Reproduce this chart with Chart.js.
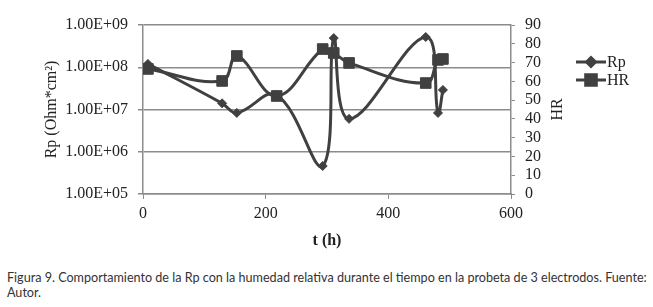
<!DOCTYPE html>
<html lang="es">
<head>
  <meta charset="UTF-8">
  <title>Figura 9 - Rp y HR</title>
  <script src="https://cdn.jsdelivr.net/npm/chart.js"></script>
  <style>
    body {
      margin: 0;
      background: #fff;
      width: 653px;
      height: 307px;
      position: relative;
      overflow: hidden;
    }
    #chart-box {
      position: absolute;
      left: 0;
      top: 0;
      width: 653px;
      height: 250px;
    }
    #caption {
      position: absolute;
      left: 7px;
      top: 270px;
      width: 640px;
      font-family: Lato, "Noto Sans", sans-serif;
      font-size: 12.6px;
      line-height: 15px;
      color: #333;
    }
  </style>
</head>
<body>
  <div id="chart-box"><canvas id="chart"></canvas></div>
  <div id="caption">Figura 9. Comportamiento de la Rp con la humedad relativa durante el tiempo en la probeta de 3 electrodos. Fuente: Autor.</div>

  <script>
    // datos
    const tiempo = [8, 129, 153, 218, 293, 311, 336, 461, 481, 489];
    const rp = [1.2e8, 1.4e7, 8.3e6, 2.2e7, 4.6e5, 4.9e8, 6.0e6, 5.2e8, 8.3e6, 2.9e7];
    const hr = [66.6, 60.2, 73.5, 52.2, 77.2, 75.1, 69.8, 59.1, 71.4, 71.9];

    const rpTicks = [1e5, 1e6, 1e7, 1e8, 1e9];
    const rpTickLabels = ['1.00E+05', '1.00E+06', '1.00E+07', '1.00E+08', '1.00E+09'];

    const serif = '"Liberation Serif", "Times New Roman", serif';
    const lineColor = '#404040';
    const gridColor = '#8c8c8c';

    // leyenda dibujada a mano (linea + marcador) y titulo HR girado
    const extrasPlugin = {
      id: 'extras',
      afterDraw(chart) {
        const ctx = chart.ctx;
        const items = [
          { text: 'Rp', y: 62, style: 'rectRot', r: 4.5 },
          { text: 'HR', y: 80, style: 'rect', r: 7.5 }
        ];
        ctx.save();
        items.forEach(it => {
          ctx.strokeStyle = lineColor;
          ctx.lineWidth = 3;
          ctx.beginPath();
          ctx.moveTo(576, it.y);
          ctx.lineTo(606, it.y);
          ctx.stroke();
          ctx.fillStyle = lineColor;
          Chart.helpers.drawPoint(ctx, { pointStyle: it.style, radius: it.r, borderWidth: 1 }, 591, it.y);
          ctx.font = '16px ' + serif;
          ctx.fillStyle = '#222';
          ctx.textBaseline = 'middle';
          ctx.fillText(it.text, 607, it.y + 1);
        });

        // titulo del eje derecho, leido de abajo hacia arriba
        const area = chart.chartArea;
        ctx.translate(558, (area.top + area.bottom) / 2);
        ctx.rotate(-Math.PI / 2);
        ctx.textAlign = 'center';
        ctx.textBaseline = 'middle';
        ctx.font = '16px ' + serif;
        ctx.fillStyle = '#222';
        ctx.fillText('HR', 0, 0);
        ctx.restore();
      }
    };

    const ctx = document.getElementById('chart').getContext('2d');
    new Chart(ctx, {
      type: 'line',
      data: {
        datasets: [
          {
            label: 'Rp',
            data: tiempo.map((t, i) => ({ x: t, y: rp[i] })),
            yAxisID: 'y',
            borderColor: lineColor,
            backgroundColor: lineColor,
            borderWidth: 3,
            tension: 0.4,
            pointStyle: 'rectRot',
            pointRadius: 4.5,
            pointBorderWidth: 1
          },
          {
            label: 'HR',
            data: tiempo.map((t, i) => ({ x: t, y: hr[i] })),
            yAxisID: 'y2',
            borderColor: lineColor,
            backgroundColor: lineColor,
            borderWidth: 3,
            tension: 0.4,
            pointStyle: 'rect',
            pointRadius: 7.5,
            pointBorderWidth: 1
          }
        ]
      },
      options: {
        responsive: true,
        maintainAspectRatio: false,
        animation: false,
        layout: { padding: { left: 42, right: 85, top: 25, bottom: 0 } },
        plugins: {
          legend: { display: false },
          tooltip: { enabled: false }
        },
        scales: {
          x: {
            type: 'linear',
            min: 0,
            max: 600,
            ticks: { stepSize: 200, color: '#222', padding: 5, font: { family: serif, size: 16 } },
            grid: { drawOnChartArea: false, color: gridColor, tickLength: 5 },
            border: { color: gridColor, width: 1.5 },
            title: { display: true, text: 't (h)', color: '#222', padding: 0, font: { family: serif, size: 16, weight: 'bold' } },
            afterFit(scale) { scale.height = 56; }
          },
          y: {
            type: 'logarithmic',
            position: 'left',
            min: 1e5,
            max: 1e9,
            afterBuildTicks(scale) { scale.ticks = rpTicks.map(v => ({ value: v })); },
            ticks: {
              color: '#222',
              padding: 10,
              font: { family: serif, size: 16 },
              callback: (v, i) => rpTickLabels[i]
            },
            grid: { color: gridColor, tickLength: 5, lineWidth: 1.5 },
            border: { color: gridColor, width: 1.5 },
            title: { display: true, text: 'Rp (Ohm*cm²)', color: '#222', padding: 0, font: { family: serif, size: 16 } },
            afterFit(scale) { scale.width = 101; }
          },
          y2: {
            type: 'linear',
            position: 'right',
            min: 0,
            max: 90,
            ticks: { stepSize: 10, autoSkip: false, color: '#222', padding: 10, font: { family: serif, size: 16 } },
            grid: { drawOnChartArea: false, color: gridColor, tickLength: 4 },
            border: { color: gridColor, width: 1.5 },
            afterFit(scale) { scale.width = 57; }
          }
        }
      },
      plugins: [extrasPlugin]
    });
  </script>
</body>
</html>
